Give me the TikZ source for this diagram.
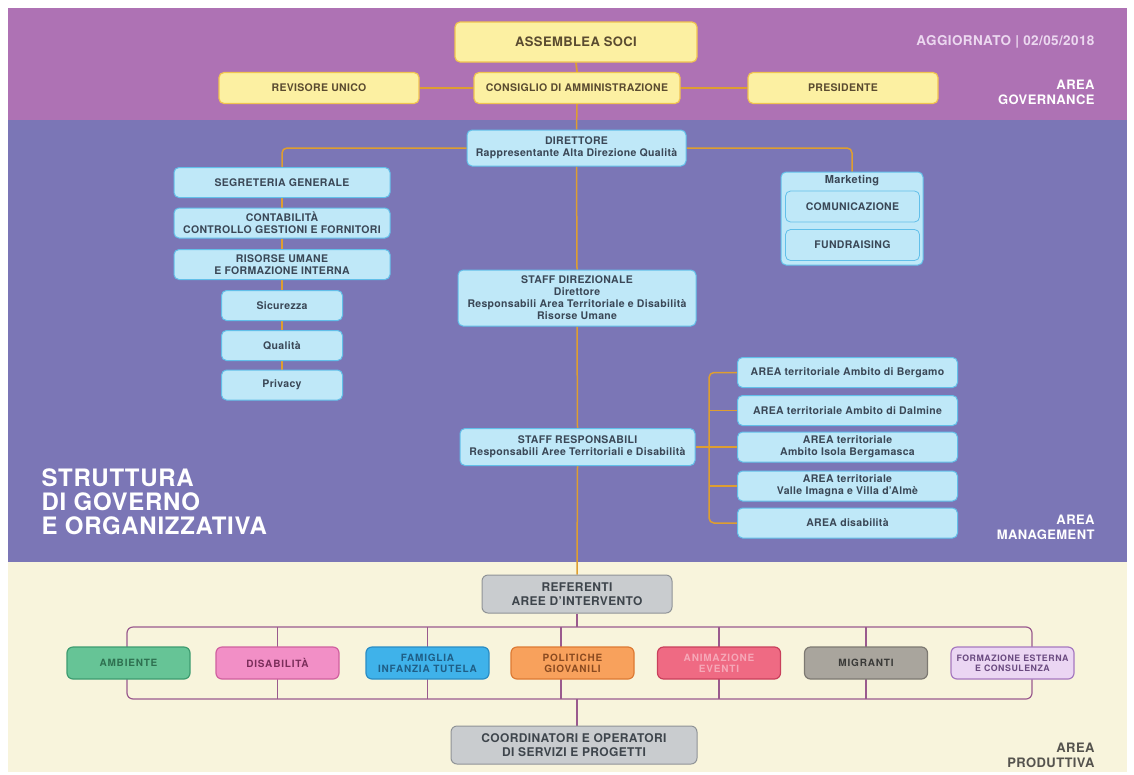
\documentclass[tikz,border=0pt]{standalone}
\usepackage{fontspec}
\setmainfont{TeX Gyre Heros}[LetterSpace=3]

\definecolor{govband}{HTML}{AE72B4}
\definecolor{mgmtband}{HTML}{7B76B6}
\definecolor{prodband}{HTML}{F8F4DC}
\definecolor{govfill}{HTML}{FCF0A2}
\definecolor{govedge}{HTML}{F0C350}
\definecolor{govtext}{HTML}{5A4B30}
\definecolor{mgmtfill}{HTML}{BFE8F8}
\definecolor{mgmtedge}{HTML}{62BFE9}
\definecolor{mgmttext}{HTML}{3A4756}
\definecolor{reffill}{HTML}{C9CCCF}
\definecolor{refedge}{HTML}{8F9397}
\definecolor{reftext}{HTML}{3E454C}
\definecolor{wireorange}{HTML}{DE9E30}
\definecolor{wiremauve}{HTML}{9A5A8E}
\definecolor{datetext}{HTML}{ECD8F0}
\definecolor{prodtext}{HTML}{55534E}
\definecolor{ambfill}{HTML}{66C496}
\definecolor{ambedge}{HTML}{3E9C70}
\definecolor{ambtext}{HTML}{2E7050}
\definecolor{disfill}{HTML}{F28FC6}
\definecolor{disedge}{HTML}{D0609F}
\definecolor{distext}{HTML}{7A2E5A}
\definecolor{famfill}{HTML}{3FB2EA}
\definecolor{famedge}{HTML}{2A8CC4}
\definecolor{famtext}{HTML}{1F5E86}
\definecolor{polfill}{HTML}{F8A15C}
\definecolor{poledge}{HTML}{DD7A34}
\definecolor{poltext}{HTML}{8A4A20}
\definecolor{anifill}{HTML}{EF6A83}
\definecolor{aniedge}{HTML}{C9405C}
\definecolor{anitext}{HTML}{F6A8B8}
\definecolor{migfill}{HTML}{A9A59D}
\definecolor{migedge}{HTML}{7D7972}
\definecolor{migtext}{HTML}{3A3A38}
\definecolor{forfill}{HTML}{EBD6F3}
\definecolor{foredge}{HTML}{A678C0}
\definecolor{fortext}{HTML}{6A4A80}

\pgfdeclarelayer{bg}
\pgfdeclarelayer{wires}
\pgfsetlayers{bg,wires,main}

\tikzset{
  govbox/.style={draw=govedge, fill=govfill, line width=1.2pt, rounded corners=5pt, text=govtext, align=center, inner sep=0pt, font=\bfseries\fontsize{10.5}{12}\selectfont},
  mgmtbox/.style={draw=mgmtedge, fill=mgmtfill, line width=1pt, rounded corners=5pt, text=mgmttext, align=center, inner sep=0pt, font=\bfseries\fontsize{10.5}{12}\selectfont},
  leftbox/.style={mgmtbox, minimum width=216pt, minimum height=30pt},
  smallbox/.style={mgmtbox, minimum width=121pt, minimum height=30pt},
  areabox/.style={mgmtbox, minimum width=220pt, minimum height=30pt},
  mktbox/.style={mgmtbox, line width=0.8pt, minimum width=134pt, minimum height=31pt},
  refbox/.style={draw=refedge, fill=reffill, line width=1pt, rounded corners=6pt, text=reftext, align=center, inner sep=0pt, font=\bfseries\fontsize{12}{14.5}\selectfont},
  catbox/.style={draw=#1edge, fill=#1fill, text=#1text, line width=1.2pt, rounded corners=6pt, minimum width=123pt, minimum height=32pt, align=center, inner sep=0pt, font=\bfseries\fontsize{10}{11}\selectfont\addfontfeature{LetterSpace=8}},
  wire/.style={draw=wireorange, line width=1.5pt},
  govwire/.style={wire, line width=1.8pt},
  bwire/.style={draw=wiremauve, line width=1.2pt},
  arealabel/.style={anchor=east, align=right, text=white, font=\bfseries\fontsize{13}{15}\selectfont},
}

\begin{document}
\begin{tikzpicture}[x=1pt,y=-1pt]
\useasboundingbox (0,0) rectangle (1134,774);

% bands
\begin{pgfonlayer}{bg}
  \fill[white] (0,0) rectangle (1134,774);
  \fill[govband] (8,8) rectangle (1127,120);
  \fill[mgmtband] (8,120) rectangle (1127,562);
  \fill[prodband] (8,562) rectangle (1127,772);
\end{pgfonlayer}

% area governance
\node[govbox, minimum width=242pt, minimum height=40pt, font=\bfseries\fontsize{13}{15}\selectfont] (assemblea) at (576,42) {ASSEMBLEA SOCI};
\node[govbox, minimum width=200pt, minimum height=31pt] (revisore) at (319,88) {REVISORE UNICO};
\node[govbox, minimum width=206pt, minimum height=31pt] (consiglio) at (577,88) {CONSIGLIO DI AMMINISTRAZIONE};
\node[govbox, minimum width=190pt, minimum height=31pt] (presidente) at (843,88) {PRESIDENTE};
\node[anchor=east, text=datetext, font=\bfseries\fontsize{13.5}{15}\selectfont] (aggiornato) at (1098,42) {AGGIORNATO | 02/05/2018};
\node[arealabel] (areagov) at (1098,92) {AREA\\GOVERNANCE};

% area management
\node[mgmtbox, minimum width=219pt, minimum height=36pt] (direttore) at (576.5,148) {DIRETTORE\\Rappresentante Alta Direzione Qualità};
\node[leftbox] (segreteria) at (282,182.5) {SEGRETERIA GENERALE};
\node[leftbox] (contabilita) at (282,223) {CONTABILITÀ\\CONTROLLO GESTIONI E FORNITORI};
\node[leftbox] (risorse) at (282,264.5) {RISORSE UMANE\\E FORMAZIONE INTERNA};
\node[smallbox] (sicurezza) at (282,305.5) {Sicurezza};
\node[smallbox] (qualita) at (282,345.5) {Qualità};
\node[smallbox] (privacy) at (282,385) {Privacy};

\node[mgmtbox, minimum width=142pt, minimum height=93pt] (marketing) at (852,218.5) {};
\node[text=mgmttext, font=\bfseries\fontsize{11}{12}\selectfont] (mktitle) at (852,181) {Marketing};
\node[mktbox] (comunicazione) at (852.5,206.5) {COMUNICAZIONE};
\node[mktbox] (fundraising) at (852.5,245) {FUNDRAISING};

\node[mgmtbox, minimum width=238pt, minimum height=56pt] (staffdir) at (577,298) {STAFF DIREZIONALE\\Direttore\\Responsabili Area Territoriale e Disabilità\\Risorse Umane};
\node[mgmtbox, minimum width=235pt, minimum height=37pt] (staffresp) at (577.5,447) {STAFF RESPONSABILI\\Responsabili Aree Territoriali e Disabilità};

\node[areabox] (bergamo) at (847.5,372.5) {AREA territoriale Ambito di Bergamo};
\node[areabox] (dalmine) at (847.5,410.5) {AREA territoriale Ambito di Dalmine};
\node[areabox] (isola) at (847.5,447) {AREA territoriale\\Ambito Isola Bergamasca};
\node[areabox] (valle) at (847.5,486) {AREA territoriale\\Valle Imagna e Villa d'Almè};
\node[areabox] (areadis) at (847.5,523) {AREA disabilità};

\node[anchor=west, align=left, text=white, font=\bfseries\fontsize{24}{24}\selectfont] (struttura) at (38,502) {STRUTTURA\\DI GOVERNO\\E ORGANIZZATIVA};
\node[arealabel] (areamgmt) at (1098,527) {AREA\\MANAGEMENT};

% area produttiva
\node[refbox, minimum width=190pt, minimum height=38pt] (referenti) at (577,594) {REFERENTI\\AREE D'INTERVENTO};
\node[catbox=amb] (ambiente) at (128.5,663) {AMBIENTE};
\node[catbox=dis] (disabilita) at (277.5,663) {DISABILITÀ};
\node[catbox=fam] (famiglia) at (427.5,663) {FAMIGLIA\\INFANZIA TUTELA};
\node[catbox=pol] (politiche) at (572.5,663) {POLITICHE\\GIOVANILI};
\node[catbox=ani] (animazione) at (719,663) {ANIMAZIONE\\EVENTI};
\node[catbox=mig] (migranti) at (866,663) {MIGRANTI};
\node[catbox=for, font=\bfseries\fontsize{8.8}{10}\selectfont\addfontfeature{LetterSpace=6}] (formazione) at (1012.5,663) {FORMAZIONE ESTERNA\\E CONSULENZA};
\node[refbox, minimum width=246pt, minimum height=38pt] (coordinatori) at (574,745) {COORDINATORI E OPERATORI\\DI SERVIZI E PROGETTI};
\node[arealabel, text=prodtext] (areaprod) at (1098,755) {AREA\\PRODUTTIVA};

\coordinate (rbus) at (709,447);
\coordinate (btl) at (127,627);
\coordinate (bbr) at (1032,699);
\coordinate (pbar) at (561,627);

% connectors
\begin{pgfonlayer}{wires}
  \draw[govwire] (assemblea.south) -- (consiglio.north);
  \draw[govwire] (revisore.east) -- (consiglio.west);
  \draw[govwire] (consiglio.east) -- (presidente.west);
  \draw[wire] (consiglio.south) -- (direttore.north);
  \draw[wire, rounded corners=5pt] (direttore.west) -| (segreteria.north);
  \draw[wire, rounded corners=5pt] (direttore.east) -| (marketing.north);
  \draw[wire] (segreteria.south) -- (contabilita.north);
  \draw[wire] (contabilita.south) -- (risorse.north);
  \draw[wire] (risorse.south) -- (sicurezza.north);
  \draw[wire] (sicurezza.south) -- (qualita.north);
  \draw[wire] (qualita.south) -- (privacy.north);
  \draw[wire] (direttore.south) -- (staffdir.north);
  \draw[wire] (staffdir.south) -- (staffresp.north);
  \draw[wire] (staffresp.east) -- (rbus);
  \draw[wire, rounded corners=5pt] (bergamo.west) -| (rbus) |- (areadis.west);
  \draw[wire] (dalmine.west) -- (dalmine.west -| rbus);
  \draw[wire] (isola.west) -- (isola.west -| rbus);
  \draw[wire] (valle.west) -- (valle.west -| rbus);
  \draw[wire] (staffresp.south) -- (referenti.north);
  \draw[bwire, rounded corners=6pt] (btl) rectangle (bbr);
  \draw[bwire] (referenti.south) -- (referenti.south |- btl);
  \draw[bwire] (referenti.south |- bbr) -- (referenti.south |- coordinatori.north);
  \draw[bwire] (disabilita |- btl) -- (disabilita |- bbr);
  \draw[bwire] (famiglia |- btl) -- (famiglia |- bbr);
  \draw[bwire] (pbar) -- (pbar |- bbr);
  \draw[bwire] (animazione |- btl) -- (animazione |- bbr);
  \draw[bwire] (migranti |- btl) -- (migranti |- bbr);
\end{pgfonlayer}
\end{tikzpicture}
\end{document}
